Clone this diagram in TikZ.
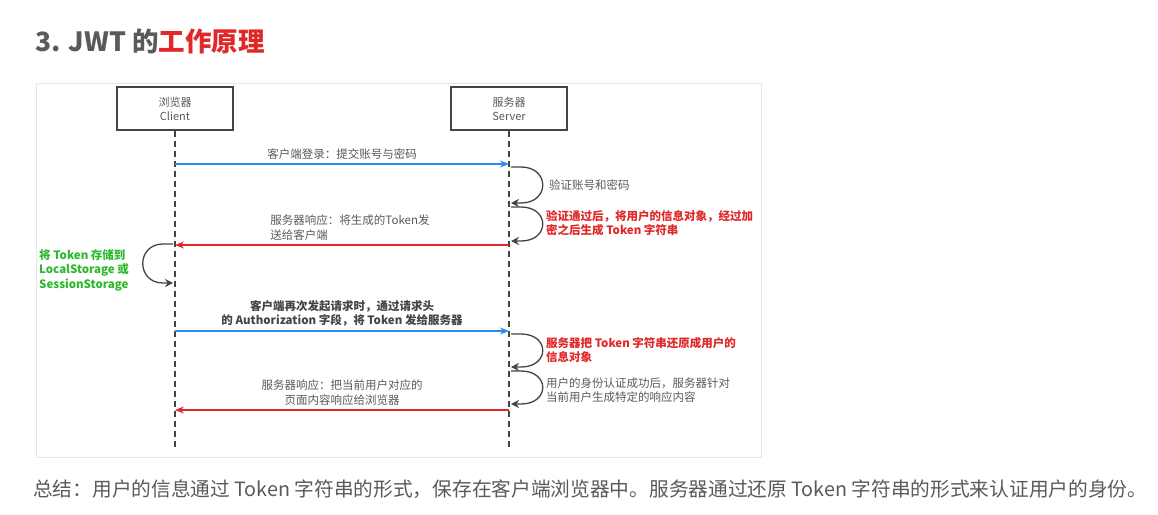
\documentclass[tikz,border=0pt]{standalone}
\usepackage{fontspec}
\setmainfont{Noto Sans CJK SC}
\usepackage{xcolor}
\usetikzlibrary{arrows.meta,positioning,calc}

\definecolor{txtgray}{HTML}{5A5A5A}
\definecolor{linegray}{HTML}{444444}
\definecolor{reqblue}{HTML}{2A8CEB}
\definecolor{resred}{HTML}{E02828}
\definecolor{okgreen}{HTML}{2DB82D}
\definecolor{framegray}{HTML}{E6E6E6}

\begin{document}
\begin{tikzpicture}[
    x=1pt, y=-1pt,
    actor/.style={rectangle, draw=linegray, line width=1.4pt, minimum width=116pt, minimum height=43pt, align=center, text=txtgray, font=\fontsize{11}{14}\selectfont},
    life/.style={draw=linegray, line width=1.2pt, dash pattern=on 6pt off 4pt},
    msg/.style={line width=1.3pt, -{Stealth[length=9pt,width=7pt]}},
    self/.style={draw=linegray, line width=1.3pt, -{Stealth[length=8pt,width=8pt]}},
    lbl/.style={font=\fontsize{11.5}{14.5}\selectfont, text=txtgray, inner sep=1pt},
    note/.style={lbl, anchor=west, align=left}
]
\useasboundingbox (0,0) rectangle (1158,514);
\fill[white] (0,0) rectangle (1158,514);

% title and frame
\node[anchor=west, inner sep=0pt, font=\fontsize{26.5}{30}\selectfont\bfseries, text=txtgray] (title) at (35,41) {3. JWT 的\textcolor{resred}{工作原理}};
\draw[framegray, line width=1pt] (36,83) rectangle (761,457);

% actors and lifelines
\node[actor] (client) at (175,108.5) {浏览器\\Client};
\node[actor] (server) at (509,108.5) {服务器\\Server};
\coordinate (clientend) at (175,450);
\coordinate (serverend) at (509,450);
\draw[life] (client.south) -- (clientend);
\draw[life] (server.south) -- (serverend);

% points on the lifelines
\coordinate (c1) at (175,164);  \coordinate (s1) at (509,164);
\coordinate (c2) at (175,245);  \coordinate (s2) at (509,245);
\coordinate (c3) at (175,331);  \coordinate (s3) at (509,331);
\coordinate (c4) at (175,410);  \coordinate (s4) at (509,410);

% messages
\draw[msg, reqblue] (c1) -- node[lbl, above=3pt] {客户端登录：提交账号与密码} (s1);
\draw[msg, resred] (s2) -- node[lbl, above=3pt, xshift=8pt, align=left] {服务器响应：将生成的Token发\\送给客户端} (c2);
\draw[msg, reqblue] (c3) -- node[lbl, above=3pt, align=center, font=\fontsize{11.5}{14.5}\selectfont\bfseries, text=linegray] {客户端再次发起请求时，通过请求头\\的 Authorization 字段，将 Token 发给服务器} (s3);
\draw[msg, resred] (s4) -- node[lbl, above=3pt, align=center] {服务器响应：把当前用户对应的\\页面内容响应给浏览器} (c4);

% self loops on the server
\foreach \top/\bot [count=\i] in {167/203, 207/241, 334/367, 371/404} {
  \coordinate (la\i) at (511,\top);
  \coordinate (lb\i) at (511,\bot);
  \draw[self] (la\i) -- ++(10,0) .. controls +(29,0) and +(29,0) .. ($(lb\i)+(10,0)$) -- (lb\i);
}
\node[note] (check) at (548,185) {验证账号和密码};
\node[note, text=resred, font=\fontsize{11.5}{14.5}\selectfont\bfseries] (sign) at (545,223) {验证通过后，将用户的信息对象，经过加\\密之后生成 Token 字符串};
\node[note, text=resred, font=\fontsize{11.5}{14.5}\selectfont\bfseries] (decode) at (545,350) {服务器把 Token 字符串还原成用户的\\信息对象};
\node[note] (reply) at (545,390) {用户的身份认证成功后，服务器针对\\当前用户生成特定的响应内容};

% self loop on the client
\coordinate (ka) at (173,244);
\coordinate (kb) at (173,283);
\draw[self] (ka) -- ++(-10,0) .. controls +(-27,0) and +(-27,0) .. ($(kb)+(-10,0)$) -- (kb);
\node[note, text=okgreen, font=\fontsize{11.5}{14.5}\selectfont\bfseries] (store) at (38,270) {将 Token 存储到\\LocalStorage 或\\SessionStorage};

% summary
\node[anchor=west, inner sep=0pt, font=\fontsize{19.7}{24}\selectfont, text=txtgray] (summary) at (33,489) {总结：用户的信息通过 Token 字符串的形式，保存在客户端浏览器中。服务器通过还原 Token 字符串的形式来认证用户的身份。};
\end{tikzpicture}
\end{document}
